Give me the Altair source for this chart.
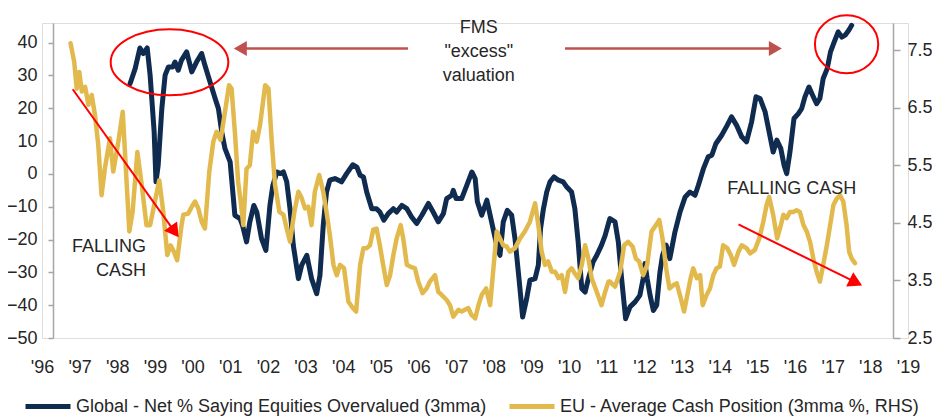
import altair as alt
import pandas as pd

NAV_NAME = "Global - Net % Saying Equities Overvalued (3mma)"
CASH_NAME = "EU - Average Cash Position (3mma %, RHS)"
NAVY = "#0f2b50"
GOLD = "#e2b94d"
TXT = "#262626"
AX = "#a6a6a6"
FONT = "Liberation Sans"

# ---- series (fractional year, value) ----
nav_t = [1998.11, 1998.25, 1998.38, 1998.47, 1998.58, 1998.66, 1998.77, 1998.82, 1998.88, 1998.98,
         1999.07, 1999.16, 1999.28, 1999.34, 1999.43, 1999.52, 1999.66, 1999.80, 1999.93, 2000.07,
         2000.16, 2000.30, 2000.44, 2000.53, 2000.62, 2000.71, 2000.85, 2000.94, 2000.98, 2001.12,
         2001.19, 2001.30, 2001.39, 2001.50, 2001.58, 2001.71, 2001.83, 2001.94, 2002.02, 2002.13,
         2002.23, 2002.31, 2002.40, 2002.49, 2002.58, 2002.72, 2002.81, 2002.95, 2003.08, 2003.22,
         2003.31, 2003.40, 2003.49,
         2003.58, 2003.72, 2003.90, 2004.04, 2004.21, 2004.32, 2004.41, 2004.50, 2004.59, 2004.73,
         2004.86, 2004.95, 2005.06, 2005.18, 2005.32, 2005.41, 2005.55, 2005.69, 2005.82, 2005.96,
         2006.10, 2006.28, 2006.41, 2006.55, 2006.69, 2006.78, 2006.92, 2006.96, 2007.04, 2007.19,
         2007.33, 2007.47, 2007.56, 2007.62, 2007.74, 2007.88, 2008.01, 2008.15, 2008.24, 2008.33,
         2008.44, 2008.56, 2008.65, 2008.76, 2008.86, 2008.97, 2009.06, 2009.20, 2009.29, 2009.35,
         2009.43, 2009.52, 2009.61, 2009.72, 2009.84, 2009.97, 2010.07, 2010.20, 2010.29, 2010.38,
         2010.48, 2010.57, 2010.66, 2010.79, 2010.89, 2011.02, 2011.12, 2011.21,
         2011.25, 2011.39, 2011.48, 2011.57, 2011.68, 2011.80, 2011.94, 2012.07, 2012.16, 2012.21,
         2012.27, 2012.35, 2012.44, 2012.53, 2012.62, 2012.69, 2012.79, 2012.89, 2013.03, 2013.17,
         2013.31, 2013.44, 2013.58, 2013.67, 2013.81, 2013.94, 2014.04, 2014.15, 2014.31, 2014.46,
         2014.58, 2014.72, 2014.86, 2014.99, 2015.13, 2015.25, 2015.36, 2015.50, 2015.61, 2015.72,
         2015.82, 2015.93, 2016.02, 2016.09, 2016.18, 2016.29, 2016.41, 2016.50, 2016.59, 2016.70,
         2016.80, 2016.91, 2017.00, 2017.09, 2017.20, 2017.29, 2017.39, 2017.50, 2017.60, 2017.69,
         2017.79, 2017.87]
nav_v = [27.5, 32.1, 38.4, 36.7, 38.4, 30.0, 12.8, -2.4, 2.6, 19.9,
         30.1, 32.6, 32.6, 34.1, 31.6, 34.7, 37.2, 31.1, 34.1, 36.7,
         33.1, 28.0, 23.0, 19.9, 12.8, 7.7, 3.7, -7.5, -12.6, -13.6,
         -15.7, -20.7, -14.6, -9.6, -11.6, -19.7, -23.3, -9.6, -3.5, 0.6,
         0.1, 0.6, -2.4, -10.6, -21.7, -31.9, -27.8, -24.8, -31.9, -36.5,
         -30.9, -15.6, -5.5,
         -1.9, -1.4, -2.4, 0.1, 2.8, 2.1, -0.4, -0.9, -5.5, -10.6,
         -10.6, -11.6, -14.1, -12.1, -10.6, -11.6, -9.6, -10.6, -13.1, -15.1,
         -12.6, -9.0, -11.6, -14.6, -12.1, -7.5, -6.5, -5.0, -7.5, -7.5,
         -3.5, 0.6, -1.4, -8.5, -12.6, -8.0, -14.6, -21.7, -24.8, -14.6,
         -11.1, -12.6, -19.7, -31.9, -43.6, -38.0, -32.4, -31.9, -27.8, -16.7,
         -10.6, -5.5, -2.4, -0.9, -1.9, -2.4, -4.0, -5.5, -10.6, -20.7,
         -35.0, -36.0, -31.9, -26.8, -24.8, -21.7, -18.7, -15.1,
         -13.6, -14.6, -20.7, -31.9, -44.1, -40.5, -39.0, -37.0, -31.9, -27.3,
         -31.9, -37.0, -41.6, -40.0, -29.9, -24.8, -21.7, -25.8, -17.7, -11.6,
         -7.0, -5.5, -6.5, -3.5, 1.6, 5.2, 5.7, 9.2, 11.8, 14.8,
         17.4, 14.8, 11.3, 9.8, 15.9, 23.5, 23.0, 18.9, 12.8, 6.7,
         10.3, 7.7, 2.6, 0.1, 6.7, 16.9, 18.4, 19.9, 23.5, 26.5,
         24.0, 21.4, 23.0, 29.1, 32.1, 37.2, 40.2, 43.3, 41.7, 42.3,
         43.8, 45.3]

cash_t = [1996.48, 1996.58, 1996.65, 1996.72, 1996.79, 1996.88, 1996.97, 1997.06, 1997.15, 1997.24,
          1997.33, 1997.42, 1997.56, 1997.65, 1997.79, 1997.91, 1998.02, 1998.09, 1998.18, 1998.31,
          1998.43, 1998.56, 1998.66, 1998.79, 1998.91, 1999.02, 1999.13, 1999.22, 1999.31, 1999.40,
          1999.52, 1999.57, 1999.70, 1999.80, 1999.89, 1999.98, 2000.07, 2000.16, 2000.28, 2000.39,
          2000.48, 2000.59, 2000.71, 2000.82, 2000.89, 2000.98, 2001.07, 2001.14, 2001.21, 2001.30,
          2001.39, 2001.48, 2001.58, 2001.67, 2001.81, 2001.90, 2001.99, 2002.08, 2002.20, 2002.31,
          2002.40, 2002.49, 2002.61, 2002.72, 2002.81, 2002.90, 2002.99, 2003.08, 2003.17, 2003.29,
          2003.40, 2003.49,
          2003.58, 2003.68, 2003.77, 2003.86, 2003.97, 2004.09, 2004.21, 2004.30, 2004.41, 2004.50,
          2004.59, 2004.68, 2004.77, 2004.86, 2004.95, 2005.04, 2005.14, 2005.23, 2005.32, 2005.41,
          2005.52, 2005.59, 2005.69, 2005.78, 2005.91, 2006.00, 2006.12, 2006.23, 2006.32, 2006.46,
          2006.55, 2006.64, 2006.78, 2006.87, 2006.96, 2007.10, 2007.19, 2007.28, 2007.37, 2007.46,
          2007.56, 2007.65, 2007.74, 2007.86, 2007.97, 2008.06, 2008.15, 2008.24, 2008.33, 2008.42,
          2008.51, 2008.65, 2008.79, 2008.92, 2009.06, 2009.20, 2009.29, 2009.38, 2009.47, 2009.56,
          2009.66, 2009.75, 2009.84, 2009.93, 2010.02, 2010.11, 2010.20, 2010.29, 2010.38, 2010.48,
          2010.57, 2010.66, 2010.75, 2010.89, 2011.02, 2011.12, 2011.21,
          2011.25, 2011.39, 2011.53, 2011.64, 2011.75, 2011.87, 2011.96, 2012.05, 2012.16, 2012.27,
          2012.39, 2012.51, 2012.60, 2012.69, 2012.79, 2012.88, 2012.99, 2013.08, 2013.19, 2013.28,
          2013.37, 2013.46, 2013.53, 2013.63, 2013.72, 2013.79, 2013.90, 2013.99, 2014.08, 2014.17,
          2014.26, 2014.35, 2014.46, 2014.56, 2014.65, 2014.77, 2014.86, 2014.99, 2015.09, 2015.22,
          2015.34, 2015.45, 2015.54, 2015.61, 2015.72, 2015.83, 2015.93, 2016.00, 2016.09, 2016.18,
          2016.27, 2016.36, 2016.45, 2016.55, 2016.64, 2016.73, 2016.82, 2016.91, 2017.00, 2017.09,
          2017.19, 2017.28, 2017.37, 2017.46, 2017.55, 2017.64, 2017.73, 2017.80, 2017.87, 2017.96]
cash_v = [7.62, 7.30, 6.83, 7.12, 6.78, 6.86, 6.55, 6.72, 6.37, 5.85,
          4.98, 5.44, 5.97, 5.39, 5.91, 6.43, 5.16, 4.35, 4.69, 5.73,
          5.16, 4.46, 4.46, 4.87, 5.24, 4.69, 3.94, 4.11, 4.00, 3.85,
          4.46, 4.64, 4.66, 4.78, 4.87, 4.75, 4.52, 4.40, 5.39, 5.91,
          6.08, 5.94, 6.43, 6.89, 6.83, 6.08, 5.21, 4.87, 4.46, 5.44,
          5.50, 6.08, 5.91, 6.20, 6.89, 6.83, 5.91, 5.16, 4.69, 4.64,
          4.40, 4.17, 4.69, 5.04, 4.93, 4.75, 4.78, 4.46, 5.04, 5.33,
          5.04, 4.69,
          4.29, 3.77, 3.59, 3.77, 3.71, 3.13, 3.02, 2.96, 3.77, 4.06,
          4.06, 4.11, 4.38, 4.40, 4.11, 3.77, 3.42, 3.59, 3.94, 4.23,
          4.46, 4.23, 3.77, 3.74, 3.71, 3.48, 3.28, 3.36, 3.48, 3.59,
          3.30, 3.25, 3.16, 3.07, 2.87, 2.99, 2.96, 2.99, 3.02, 2.90,
          2.84, 3.07, 3.25, 3.36, 3.07, 3.71, 4.35, 4.23, 4.11, 4.09,
          4.00, 4.06, 4.23, 4.35, 4.52, 4.84, 4.46, 4.00, 3.77, 3.83,
          3.65, 3.65, 3.54, 3.59, 3.30, 3.65, 3.71, 3.62, 3.54, 3.77,
          4.11, 3.88, 3.54, 3.30, 3.07, 3.30, 3.48,
          3.48, 3.39, 3.65, 4.11, 4.17, 4.09, 3.88, 3.83, 3.59, 3.77,
          4.35, 4.46, 4.55, 4.23, 3.71, 3.36, 3.42, 3.45, 3.19, 2.96,
          3.25, 3.54, 3.71, 3.54, 3.59, 3.07, 3.25, 3.36, 3.59, 3.71,
          3.74, 4.11, 4.06, 3.94, 3.77, 4.00, 4.11, 4.06, 3.97, 4.03,
          4.23, 4.52, 4.81, 4.95, 4.64, 4.23, 4.46, 4.64, 4.58, 4.69,
          4.69, 4.72, 4.69, 4.46, 4.35, 4.17, 3.88, 3.65, 3.48, 3.77,
          4.11, 4.46, 4.81, 4.92, 4.98, 4.87, 4.46, 4.00, 3.88, 3.80]

year_ticks = list(range(1996, 2020))
left_ticks = [40, 30, 20, 10, 0, -10, -20, -30, -40, -50]
right_ticks = [7.5, 6.5, 5.5, 4.5, 3.5, 2.5]

# ---- annotations, anchored in (year, left-axis value) ----
ring_t = [1999.19, 2017.73]
ring_v = [34.05, 39.5]
ring_w = [117.6, 63.3]
ring_ratio = [0.561, 0.915]

harrow_t = [2001.13, 2010.02]
harrow_t2 = [2005.72, 2015.78]
harrow_v = [38.2, 38.2]
hhead_t = [2001.13, 2015.78]
hhead_shape = ["triangle-left", "triangle-right"]

darrow_t = [1996.54, 2014.77]
darrow_v = [25.8, -15.4]
darrow_t2 = [1999.33, 2017.985]
darrow_v2 = [-17.6, -33.05]
dhead_angle = [144.4, 116.4]

label_text = ['FMS\n"excess"\nvaluation', "FALLING\nCASH", "FALLING CASH"]
label_t = [2007.66, 1998.55, 2014.46]
label_v = [44.6, -22.4, -4.7]


def ellipse_path(b):
    k = 0.5523
    kb = round(k * b, 4)
    b = round(b, 4)
    return (f"M1,0 C1,{kb} {k},{b} 0,{b} C{-k},{b} -1,{kb} -1,0 "
            f"C-1,{-kb} {-k},{-b} 0,{-b} C{k},{-b} 1,{-kb} 1,0 Z")


nav_df = pd.DataFrame({"t": nav_t, "v": nav_v, "s": NAV_NAME})
cash_df = pd.DataFrame({"t": cash_t, "v": cash_v, "s": CASH_NAME})
years_df = pd.DataFrame({"year": year_ticks})
ring_df = pd.DataFrame({"t": ring_t, "v": ring_v,
                        "sz": [w * w for w in ring_w],
                        "shp": [ellipse_path(r) for r in ring_ratio]})
harrow_df = pd.DataFrame({"t": harrow_t, "t2": harrow_t2, "v": harrow_v})
hhead_df = pd.DataFrame({"t": hhead_t, "v": harrow_v, "shp": hhead_shape})
darrow_df = pd.DataFrame({"t": darrow_t, "v": darrow_v, "t2": darrow_t2, "v2": darrow_v2})
dhead_df = pd.DataFrame({"t": darrow_t2, "v": darrow_v2, "a": dhead_angle})
fms_df = pd.DataFrame({"t": label_t[:1], "v": label_v[:1], "txt": label_text[:1]})
fall1_df = pd.DataFrame({"t": label_t[1:2], "v": label_v[1:2], "txt": label_text[1:2]})
fall2_df = pd.DataFrame({"t": label_t[2:], "v": label_v[2:], "txt": label_text[2:]})

# data position scale (plot area spans a little past the two y axes)
x_data = alt.X("t:Q", scale=alt.Scale(domain=[1995.699, 2019.412], nice=False, zero=False), axis=None)

# year label axis, as the reference places it
x_years = alt.X(
    "year:Q",
    scale=alt.Scale(domain=[1996, 2019], nice=False, zero=False),
    axis=alt.Axis(values=year_ticks, labelExpr="\"'\" + substring(toString(datum.value), 2, 4)",
                  title=None, grid=False, domain=False, ticks=False, tickSize=0,
                  labelPadding=20, labelFlush=False, labelOverlap=False,
                  labelFontSize=18, labelFont=FONT, labelColor=TXT),
)

left_scale = alt.Scale(domain=[-50, 46], nice=False, zero=False)
right_scale = alt.Scale(domain=[2.5, 7.97], nice=False, zero=False)

color_enc = alt.Color(
    "s:N",
    scale=alt.Scale(domain=[NAV_NAME, CASH_NAME], range=[NAVY, GOLD]),
    legend=alt.Legend(title=None, orient="none", legendX=-19, legendY=358.5, direction="horizontal",
                      symbolType="stroke", symbolStrokeWidth=5, symbolSize=2025,
                      labelFontSize=18, labelFont=FONT, labelColor=TXT, labelOffset=3,
                      labelLimit=0, columnPadding=12, padding=0),
)

navy = alt.Chart(nav_df).mark_line(strokeWidth=5, strokeJoin="round", strokeCap="round").encode(
    x=x_data,
    y=alt.Y("v:Q", scale=left_scale,
            axis=alt.Axis(orient="left", offset=-11, values=left_ticks, title=None, grid=False,
                          domainColor=AX, domainWidth=1.5, tickColor=AX, tickWidth=1.5,
                          tickSize=5, labelPadding=11, labelFontSize=18, labelFont=FONT,
                          labelColor=TXT)),
    color=color_enc,
)

cash = alt.Chart(cash_df).mark_line(strokeWidth=4.5, strokeJoin="round", strokeCap="round").encode(
    x=x_data,
    y=alt.Y("v:Q", scale=right_scale,
            axis=alt.Axis(orient="right", offset=-15, values=right_ticks, title=None, grid=False,
                          format=".1f", domainColor=AX, domainWidth=1.5, tickColor=AX,
                          tickWidth=1.5, tickSize=7, labelPadding=7, labelFontSize=18,
                          labelFont=FONT, labelColor=TXT)),
    color=color_enc,
)

year_axis = alt.Chart(years_df).mark_point(opacity=0).encode(x=x_years, y=alt.value(0))


def ann_y():
    return alt.Y("v:Q", scale=left_scale, axis=None)


rings = alt.Chart(ring_df).mark_point(filled=False, strokeWidth=2, color="#ff0000", opacity=1).encode(
    x=x_data, y=ann_y(), size=alt.Size("sz:Q", scale=None), shape=alt.Shape("shp:N", scale=None))

harrows = alt.Chart(harrow_df).mark_rule(strokeWidth=2.5, color="#c0504d").encode(
    x=x_data, x2="t2:Q", y=ann_y())
hheads = alt.Chart(hhead_df).mark_point(filled=True, opacity=1, size=225, color="#c0504d").encode(
    x=x_data, y=ann_y(), shape=alt.Shape("shp:N", scale=None))

darrows = alt.Chart(darrow_df).mark_rule(strokeWidth=2, color="#ff0000").encode(
    x=x_data, x2="t2:Q", y=ann_y(), y2="v2:Q")
dheads = alt.Chart(dhead_df).mark_point(filled=True, opacity=1, size=256, shape="triangle-up",
                                        color="#ff0000").encode(
    x=x_data, y=ann_y(), angle=alt.Angle("a:Q", scale=None))

fms_text = alt.Chart(fms_df).mark_text(fontSize=18, font=FONT, color=TXT, align="center",
                                       baseline="middle", lineBreak="\n", lineHeight=24).encode(
    x=x_data, y=ann_y(), text="txt:N")
fall1_text = alt.Chart(fall1_df).mark_text(fontSize=18, font=FONT, color=TXT,
                                           align="right", baseline="middle", lineBreak="\n",
                                           lineHeight=24).encode(
    x=x_data, y=ann_y(), text="txt:N")
fall2_text = alt.Chart(fall2_df).mark_text(fontSize=18, font=FONT, color=TXT,
                                           align="left", baseline="middle").encode(
    x=x_data, y=ann_y(), text="txt:N")

annotations = alt.layer(rings, harrows, hheads, darrows, dheads, fms_text, fall1_text, fall2_text)

chart = alt.layer(navy, cash, annotations, year_axis).resolve_scale(
    x="independent", y="independent"
).properties(
    width=866, height=315,
    autosize=alt.AutoSizeParams(type="none"),
    padding={"left": 34, "top": 15, "right": 24, "bottom": 82},
).configure_view(stroke=None).configure(background="white")

chart.save("out.html", embed_options={"renderer": "svg", "actions": False})
